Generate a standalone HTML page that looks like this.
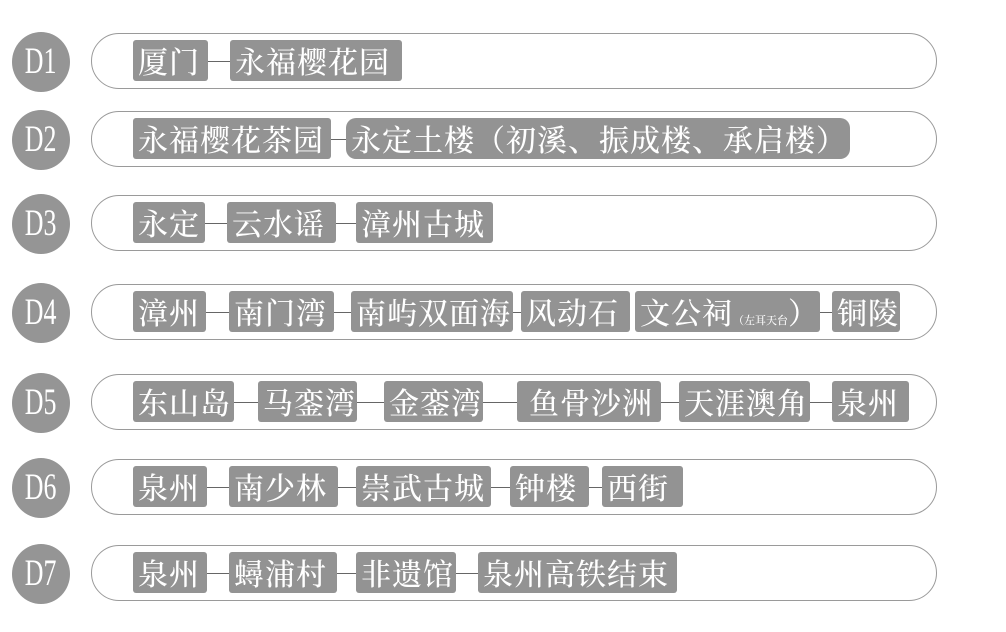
<!DOCTYPE html>
<html><head><meta charset="utf-8"><style>
body{margin:0;width:1006px;height:632px;background:#fff;position:relative;overflow:hidden;font-family:"Liberation Serif","Noto Serif CJK SC",serif}
.c{position:absolute;left:12px;width:58px;height:60px;border-radius:50%;background:#959595;color:#fff;font-size:37px;line-height:60px;text-align:center}
.c span{display:inline-block;transform:scaleX(.7)}
.p{position:absolute;left:91px;width:846px;height:56px;border:1px solid #9a9a9a;border-radius:29px;box-sizing:border-box}
.b{position:absolute;height:41px;background:#939393;border-radius:3px;color:#fff;font-size:30px;line-height:41px;text-align:left;padding-left:5px;box-sizing:border-box;white-space:nowrap;overflow:hidden;font-weight:500;font-family:"Noto Serif CJK SC",serif;letter-spacing:1px}
.l{position:absolute;height:1px;background:#666}
small{font-size:11px;letter-spacing:0}
</style></head><body>
<div class="c" style="top:32px"><span>D1</span></div>
<div class="p" style="top:33px"></div>
<div class="b" style="left:133px;top:40px;width:75px">厦门</div>
<div class="l" style="left:208px;top:61px;width:22px"></div>
<div class="b" style="left:230px;top:40px;width:172px">永福樱花园</div>

<div class="c" style="top:110px"><span>D2</span></div>
<div class="p" style="top:111px"></div>
<div class="b" style="left:133px;top:118px;width:198px">永福樱花茶园</div>
<div class="l" style="left:331px;top:139px;width:15px"></div>
<div class="b" style="left:346px;top:118px;width:504px;border-radius:10px">永定土楼（初溪、振成楼、承启楼）</div>

<div class="c" style="top:194px"><span>D3</span></div>
<div class="p" style="top:195px"></div>
<div class="b" style="left:133px;top:202px;width:72px">永定</div>
<div class="l" style="left:205px;top:223px;width:22px"></div>
<div class="b" style="left:227px;top:202px;width:109px">云水谣</div>
<div class="l" style="left:336px;top:223px;width:20px"></div>
<div class="b" style="left:356px;top:202px;width:137px">漳州古城</div>

<div class="c" style="top:283px"><span>D4</span></div>
<div class="p" style="top:284px"></div>
<div class="b" style="left:133px;top:291px;width:73px">漳州</div>
<div class="l" style="left:206px;top:312px;width:23px"></div>
<div class="b" style="left:229px;top:291px;width:105px">南门湾</div>
<div class="l" style="left:334px;top:312px;width:17px"></div>
<div class="b" style="left:351px;top:291px;width:162px">南屿双面海</div>
<div class="l" style="left:513px;top:312px;width:8px"></div>
<div class="b" style="left:521px;top:291px;width:109px">风动石</div>
<div class="b" style="left:635px;top:291px;width:185px">文公祠<small>（左耳天台</small>）</div>
<div class="l" style="left:820px;top:312px;width:12px"></div>
<div class="b" style="left:832px;top:291px;width:68px">铜陵</div>

<div class="c" style="top:373px"><span>D5</span></div>
<div class="p" style="top:374px"></div>
<div class="b" style="left:133px;top:381px;width:101px">东山岛</div>
<div class="l" style="left:234px;top:402px;width:24px"></div>
<div class="b" style="left:258px;top:381px;width:99px">马銮湾</div>
<div class="l" style="left:357px;top:402px;width:27px"></div>
<div class="b" style="left:384px;top:381px;width:99px">金銮湾</div>
<div class="l" style="left:483px;top:402px;width:34px"></div>
<div class="b" style="left:517px;top:381px;width:144px;padding-left:12px">鱼骨沙洲</div>
<div class="l" style="left:661px;top:402px;width:18px"></div>
<div class="b" style="left:679px;top:381px;width:131px">天涯澳角</div>
<div class="l" style="left:810px;top:402px;width:22px"></div>
<div class="b" style="left:832px;top:381px;width:77px">泉州</div>

<div class="c" style="top:458px"><span>D6</span></div>
<div class="p" style="top:459px"></div>
<div class="b" style="left:133px;top:466px;width:74px">泉州</div>
<div class="l" style="left:207px;top:487px;width:22px"></div>
<div class="b" style="left:229px;top:466px;width:109px">南少林</div>
<div class="l" style="left:338px;top:487px;width:18px"></div>
<div class="b" style="left:356px;top:466px;width:135px">崇武古城</div>
<div class="l" style="left:491px;top:487px;width:19px"></div>
<div class="b" style="left:510px;top:466px;width:79px">钟楼</div>
<div class="l" style="left:589px;top:487px;width:13px"></div>
<div class="b" style="left:602px;top:466px;width:81px">西街</div>

<div class="c" style="top:544px"><span>D7</span></div>
<div class="p" style="top:545px"></div>
<div class="b" style="left:133px;top:552px;width:74px">泉州</div>
<div class="l" style="left:207px;top:573px;width:22px"></div>
<div class="b" style="left:229px;top:552px;width:108px">蟳浦村</div>
<div class="l" style="left:337px;top:573px;width:19px"></div>
<div class="b" style="left:356px;top:552px;width:100px">非遗馆</div>
<div class="l" style="left:456px;top:573px;width:22px"></div>
<div class="b" style="left:478px;top:552px;width:199px">泉州高铁结束</div>
</body></html>
